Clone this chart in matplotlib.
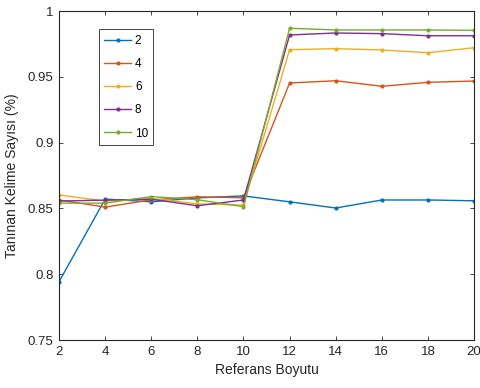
# tanınan kelime sayısı vs referans boyutu

import numpy as np
import matplotlib.pyplot as plt

plt.rcParams['font.family'] = ['Liberation Sans', 'DejaVu Sans']

x = [2, 4, 6, 8, 10, 12, 14, 16, 18, 20]
labels = ["2", "4", "6", "8", "10"]

s2 = [0.7943, 0.8571, 0.8550, 0.8580, 0.8595, 0.8550, 0.8503, 0.8564, 0.8564, 0.8558]
s4 = [0.8564, 0.8510, 0.8565, 0.8588, 0.8581, 0.9453, 0.9470, 0.9428, 0.9458, 0.9468]
s6 = [0.8602, 0.8556, 0.8575, 0.8535, 0.8525, 0.9706, 0.9714, 0.9704, 0.9683, 0.9721]
s8 = [0.8556, 0.8563, 0.8570, 0.8520, 0.8564, 0.9818, 0.9833, 0.9828, 0.9812, 0.9812]
s10 = [0.8540, 0.8540, 0.8590, 0.8566, 0.8513, 0.9869, 0.9856, 0.9856, 0.9856, 0.9853]

colors = ["#0072BD", "#D95319", "#EDB120", "#7E2F8E", "#77AC30"]

fig = plt.figure(figsize=(4.8, 3.88), dpi=100)
ax = fig.add_axes([0.123, 0.1237, 0.8646, 0.8479])

for ys, lab, c in zip([s2, s4, s6, s8, s10], labels, colors):
    ax.plot(x, ys, color=c, lw=1.0, marker='.', markersize=4, label=lab)

ax.set_xlim(2, 20)
ax.set_ylim(0.75, 1.0)
ax.set_xticks(x)
ax.set_yticks([0.75, 0.8, 0.85, 0.9, 0.95, 1.0])
ax.set_yticklabels(["0.75", "0.8", "0.85", "0.9", "0.95", "1"])
ax.tick_params(axis='both', direction='in', length=3, width=0.6, top=True, right=True,
               labelsize=9.5, colors='#262626', pad=4)
for sp in ax.spines.values():
    sp.set_linewidth(0.8)
    sp.set_color('#262626')

ax.set_xlabel("Referans Boyutu", fontsize=10, color='#262626', labelpad=4)
ax.set_ylabel("Tanınan Kelime Sayısı (%)", fontsize=10, color='#262626', labelpad=6)

leg = ax.legend(loc='upper left', bbox_to_anchor=(0.096, 0.944), borderaxespad=0,
                fontsize=8.5, handlelength=2.3, labelspacing=0.95, fancybox=False,
                edgecolor='#262626', framealpha=1, borderpad=0.45, handletextpad=0.3)
leg.get_frame().set_linewidth(0.6)

plt.savefig("out.png", dpi=100)
